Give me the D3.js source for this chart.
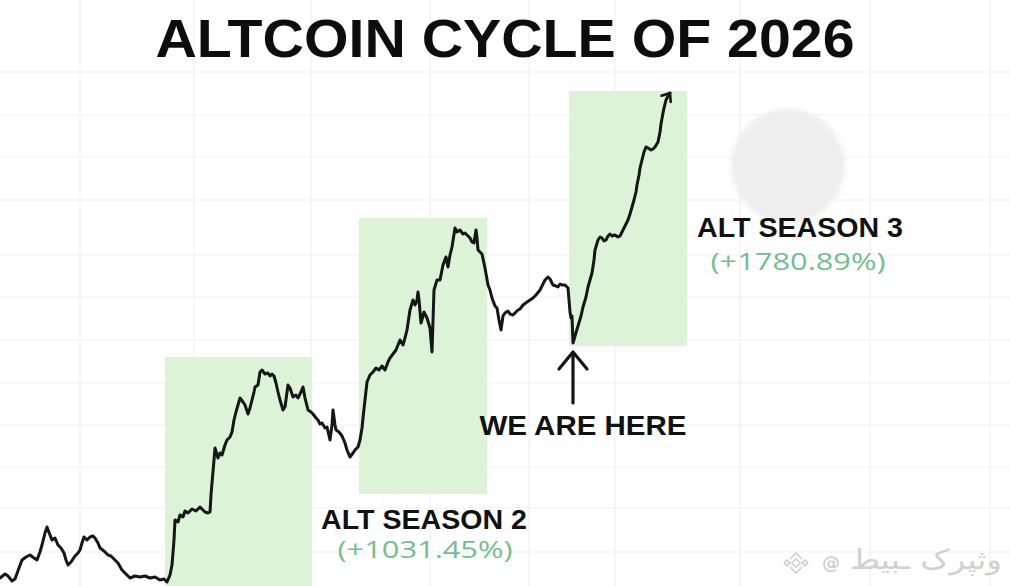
<!DOCTYPE html>
<html>
<head>
<meta charset="utf-8">
<script src="https://cdn.jsdelivr.net/npm/d3@7"></script>
<style>
  html, body { margin: 0; padding: 0; background: #ffffff; }
  svg { display: block; }
</style>
</head>
<body>
<svg id="chart" width="1010" height="586"></svg>
<script>
// ---------- data ----------
const titleText = "ALTCOIN CYCLE OF 2026";
const days = [0,5,8,12,15,19,22,26,30,34,37,40,42,45,47,50,52,55,58,61,64,66,68,71,75,78,80,82,84,87,90,93,95,98,100,104,108,111,115,118,122,126,130,135,140,145,150,155,160,164,167,170,172,174,175,178,180,183,185,188,192,196,200,203,205,208,210,211,212,214,215,218,220,222,225,227,230,232,234,236,238,240,243,245,248,250,252,254,255,258,260,262,265,268,270,272,274,276,278,280,283,285,288,290,293,296,298,301,303,305,308,311,313,316,318,320,322,325,327,330,332,333,335,336,339,342,345,347,350,353,355,358,360,362,363,365,367,370,373,376,379,382,385,388,390,393,396,400,403,405,407,410,413,415,417,418,419,421,424,427,430,432,434,437,440,443,446,448,450,452,455,457,460,463,465,468,470,472,474,476,477,478,482,485,488,490,492,495,497,499,501,503,505,508,510,513,516,518,520,523,527,530,533,536,540,543,545,548,550,553,556,558,560,562,565,568,569,570,571,572,573,575,578,581,583,586,588,590,592,594,595,598,600,602,604,606,608,610,612,615,618,620,623,625,628,630,632,634,636,637,639,640,642,644,646,648,651,653,655,658,660,661,663,664,666,668,670];
const values = [8,12,10,5,7,18,26,29,31,28,26,34,41,53,59,51,46,48,41,38,33,26,21,24,30,33,36,43,49,46,49,50,48,43,38,35,31,30,26,23,16,12,8,10,9,10,8,9,6,7,4,11,21,46,66,64,71,69,75,73,77,75,79,76,74,73,74,91,103,126,138,128,133,131,141,146,149,154,166,174,181,188,184,181,172,178,186,194,199,201,214,216,212,213,210,212,210,203,194,186,176,179,201,198,189,191,188,194,199,188,176,174,172,168,166,162,163,158,159,146,161,176,161,156,154,150,143,136,129,133,136,139,146,158,168,186,204,211,214,218,216,220,216,224,228,232,236,246,241,248,256,276,286,281,286,294,286,263,274,268,258,234,296,306,306,321,329,319,331,339,358,354,356,352,353,350,348,344,343,356,348,336,332,318,301,296,288,280,278,266,256,270,273,275,272,271,274,276,277,281,284,286,288,291,296,302,306,309,307,301,300,299,302,301,301,298,286,274,268,270,243,250,260,270,279,289,299,306,313,326,336,346,349,348,345,346,350,352,350,351,349,350,356,360,366,372,379,386,394,401,411,418,426,434,439,438,436,437,439,444,454,462,473,478,486,490,493];

const seasonNames   = ["", "ALT SEASON 2", "ALT SEASON 3"];
const seasonGains   = ["", "(+1031.45%)", "(+1780.89%)"];
const seasonStart   = [165, 359, 569];
const seasonEnd     = [312, 487, 687];
const seasonLow     = [-10, 92, 240];
const seasonHigh    = [229, 368, 495];

const markerLabel = "WE ARE HERE";
const markerDay = 573;
const markerValue = 243;

const gridDays   = [80, 194, 311, 430, 529, 615, 740, 870, 990];
const gridValues = [34, 78, 119, 161, 203, 246, 289, 331, 386, 429, 471, 514];

const watermarkText = "وثپرک ـبیط";

// ---------- layout ----------
const W = 1010, H = 586;
const svg = d3.select("#chart");
const x = d3.scaleLinear().domain([0, 1010]).range([0, W]);
const y = d3.scaleLinear().domain([0, 586]).range([H, 0]);

const defs = svg.append("defs");
defs.append("filter").attr("id", "blur").attr("x", "-20%").attr("y", "-20%").attr("width", "140%").attr("height", "140%")
  .append("feGaussianBlur").attr("stdDeviation", 2.5);
defs.append("filter").attr("id", "soft")
  .append("feGaussianBlur").attr("stdDeviation", 0.4);

svg.append("rect").attr("width", W).attr("height", H).attr("fill", "#ffffff");

// grid
const grid = svg.append("g").attr("stroke", "#f0f0f0").attr("stroke-width", 1.2);
grid.selectAll("line.v").data(gridDays).join("line")
  .attr("x1", d => x(d)).attr("x2", d => x(d)).attr("y1", 0).attr("y2", H);
grid.selectAll("line.h").data(gridValues).join("line")
  .attr("x1", 0).attr("x2", W).attr("y1", d => y(d)).attr("y2", d => y(d));

// season boxes
svg.append("g").selectAll("rect").data(seasonStart).join("rect")
  .attr("x", (d, i) => x(d))
  .attr("width", (d, i) => x(seasonEnd[i]) - x(d))
  .attr("y", (d, i) => y(seasonHigh[i]))
  .attr("height", (d, i) => y(seasonLow[i]) - y(seasonHigh[i]))
  .attr("fill", "#ddf3d8");

// faint circle
svg.append("circle").attr("cx", 788).attr("cy", 166).attr("r", 57)
  .attr("fill", "#eeeeee").attr("filter", "url(#blur)");

// price line
const pts = days.map((d, i) => [d, values[i]]);
defs.append("marker").attr("id", "tip").attr("markerUnits", "userSpaceOnUse")
  .attr("viewBox", "-10 -8 14 16").attr("refX", 0).attr("refY", 0)
  .attr("markerWidth", 14).attr("markerHeight", 16).attr("orient", "auto")
  .append("path").attr("d", "M-7,-5.5 L0,0 L-7,5.5").attr("fill", "none")
  .attr("stroke", "#161616").attr("stroke-width", 2.6).attr("stroke-linecap", "round").attr("stroke-linejoin", "round");

svg.append("path").datum(pts)
  .attr("d", d3.line().x(d => x(d[0])).y(d => y(d[1])))
  .attr("fill", "none").attr("stroke", "#141414").attr("stroke-width", 3)
  .attr("stroke-linejoin", "round").attr("stroke-linecap", "round")
  .attr("marker-end", "url(#tip)").attr("filter", "url(#soft)");

// title
svg.append("text").attr("x", W / 2).attr("y", 57).attr("text-anchor", "middle")
  .attr("font-family", "'Liberation Sans', Arial, sans-serif").attr("font-weight", 700)
  .attr("font-size", 54).attr("fill", "#0d0d0d")
  .attr("textLength", 699).attr("lengthAdjust", "spacingAndGlyphs")
  .text(titleText);

// season labels
const lab = svg.append("g");
const nameX = [0, 424, 800], nameY = [0, 529, 237];
const gainX = [0, 425, 798], gainY = [0, 558, 270];
[1, 2].forEach(i => {
  lab.append("text").attr("x", nameX[i]).attr("y", nameY[i]).attr("text-anchor", "middle")
    .attr("font-family", "'Liberation Sans', Arial, sans-serif").attr("font-weight", 700)
    .attr("font-size", 27).attr("fill", "#111")
    .attr("textLength", 206).attr("lengthAdjust", "spacingAndGlyphs")
    .text(seasonNames[i]);
  lab.append("text").attr("x", gainX[i]).attr("y", gainY[i]).attr("text-anchor", "middle")
    .attr("font-family", "'Open Sans', 'Noto Sans', sans-serif").attr("font-weight", 400)
    .attr("font-size", 24).attr("fill", "#72bf8e")
    .attr("textLength", 175).attr("lengthAdjust", "spacingAndGlyphs")
    .text(seasonGains[i]);
});

// WE ARE HERE arrow
const ax = x(markerDay), ay = y(markerValue) + 9;
const arrow = svg.append("g").attr("stroke", "#151515").attr("stroke-width", 3.2)
  .attr("fill", "none").attr("stroke-linecap", "round").attr("stroke-linejoin", "round");
arrow.append("line").attr("x1", ax).attr("x2", ax).attr("y1", ay + 1).attr("y2", ay + 51);
arrow.append("path").attr("d", `M${ax - 14},${ay + 17} L${ax},${ay} L${ax + 14},${ay + 17}`);
svg.append("text").attr("x", 583).attr("y", 435).attr("text-anchor", "middle")
  .attr("font-family", "'Liberation Sans', Arial, sans-serif").attr("font-weight", 700)
  .attr("font-size", 28).attr("fill", "#111")
  .attr("textLength", 207).attr("lengthAdjust", "spacingAndGlyphs")
  .text(markerLabel);

// watermark
const wm = svg.append("g");
const lg = wm.append("g").attr("transform", "translate(796,563)")
  .attr("fill", "none").attr("stroke", "#cfcfcf").attr("stroke-width", 1.6);
lg.append("rect").attr("x", -3).attr("y", -3).attr("width", 6).attr("height", 6).attr("transform", "rotate(45)");
lg.append("rect").attr("x", -2).attr("y", -2).attr("width", 4).attr("height", 4).attr("transform", "translate(-9,0) rotate(45)");
lg.append("rect").attr("x", -2).attr("y", -2).attr("width", 4).attr("height", 4).attr("transform", "translate(9,0) rotate(45)");
lg.append("path").attr("d", "M-6,-4 L0,-10 L6,-4");
lg.append("path").attr("d", "M-6,4 L0,10 L6,4");
wm.append("text").attr("x", 831).attr("y", 569).attr("text-anchor", "middle")
  .attr("font-family", "'DejaVu Sans', sans-serif").attr("font-size", 18).attr("font-weight", 700)
  .attr("fill", "#d0d0d0").text("@");
wm.append("text").attr("x", 1002).attr("y", 569).attr("text-anchor", "end")
  .attr("font-family", "'DejaVu Sans', 'Noto Sans', sans-serif").attr("font-size", 27)
  .attr("fill", "#d0d0d0")
  .attr("textLength", 152).attr("lengthAdjust", "spacingAndGlyphs")
  .text(watermarkText);
</script>
</body>
</html>
